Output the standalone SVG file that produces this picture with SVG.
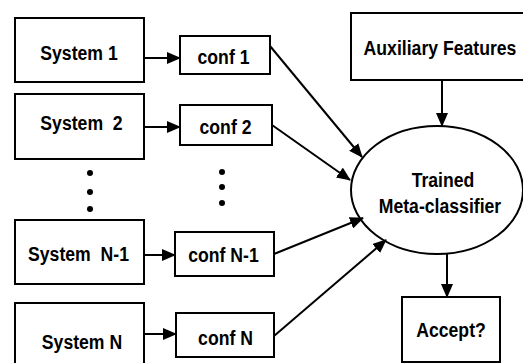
<svg xmlns="http://www.w3.org/2000/svg" width="523" height="363" viewBox="0 0 523 363">
<style>
.box{fill:#fff;stroke:#000;stroke-width:2}
.t{font-family:"Liberation Sans",Arial,sans-serif;font-weight:bold;font-size:21px;text-anchor:middle;fill:#000}
.c{stroke:#000;stroke-width:2;fill:none;marker-end:url(#ah)}
</style>
<defs>
<marker id="ah" markerUnits="userSpaceOnUse" markerWidth="14" markerHeight="12" viewBox="0 0 14 12" refX="13" refY="6" orient="auto">
<path d="M0,0 L14,6 L0,12 Z" fill="#000"/>
</marker>
</defs>
<rect width="523" height="363" fill="#fff"/>
<g id="sys1"><rect class="box" x="15" y="18" width="129" height="64"/><text class="t" transform="matrix(0.84 0 0 1 79 60)">System 1</text></g>
<g id="sys2"><rect class="box" x="15" y="94" width="129" height="65"/><text class="t" xml:space="preserve" transform="matrix(0.84 0 0 1 81.5 130)">System  2</text></g>
<g id="sysN1"><rect class="box" x="15" y="220" width="129" height="64"/><text class="t" xml:space="preserve" transform="matrix(0.84 0 0 1 78.5 261)">System  N-1</text></g>
<g id="sysN"><rect class="box" x="15" y="303" width="129" height="70"/><text class="t" transform="matrix(0.84 0 0 1 82 349)">System N</text></g>
<g id="conf1"><rect class="box" x="180" y="36" width="90" height="38"/><text class="t" transform="matrix(0.84 0 0 1 223.5 64)">conf 1</text></g>
<g id="conf2"><rect class="box" x="180" y="105" width="92" height="40"/><text class="t" transform="matrix(0.84 0 0 1 225.5 134)">conf 2</text></g>
<g id="confN1"><rect class="box" x="175" y="232" width="99" height="44"/><text class="t" transform="matrix(0.84 0 0 1 223.5 262)">conf N-1</text></g>
<g id="confN"><rect class="box" x="176" y="313" width="98" height="44"/><text class="t" transform="matrix(0.84 0 0 1 225.5 345)">conf N</text></g>
<g id="dots" fill="#000">
<circle cx="90" cy="173" r="3"/><circle cx="90" cy="192" r="3"/><circle cx="90" cy="209" r="3"/>
<circle cx="222" cy="172" r="3"/><circle cx="222" cy="187" r="3"/><circle cx="222" cy="203" r="3"/>
</g>
<g id="aux"><rect class="box" x="351" y="13" width="180" height="67"/><text class="t" transform="matrix(0.84 0 0 1 440 55)">Auxiliary Features</text></g>
<g id="meta"><ellipse class="box" cx="437" cy="190" rx="86" ry="64"/><text class="t" transform="matrix(0.84 0 0 1 443 187)">Trained</text><text class="t" transform="matrix(0.84 0 0 1 440 213)">Meta-classifier</text></g>
<g id="accept"><rect class="box" x="402" y="297" width="98" height="65"/><text class="t" transform="matrix(0.84 0 0 1 451 337)">Accept?</text></g>
<g id="connectors">
<line class="c" x1="144" y1="58" x2="180" y2="58"/>
<line class="c" x1="144" y1="127" x2="180" y2="127"/>
<line class="c" x1="144" y1="255" x2="175" y2="255"/>
<line class="c" x1="144" y1="334" x2="176" y2="334"/>
<line class="c" x1="270" y1="46" x2="362" y2="157"/>
<line class="c" x1="272" y1="125" x2="350" y2="180"/>
<line class="c" x1="274" y1="254" x2="363" y2="218"/>
<line class="c" x1="274" y1="336" x2="386" y2="240"/>
<line class="c" x1="442" y1="80" x2="442" y2="126"/>
<line class="c" x1="447" y1="254" x2="447" y2="297"/>
</g>
</svg>
